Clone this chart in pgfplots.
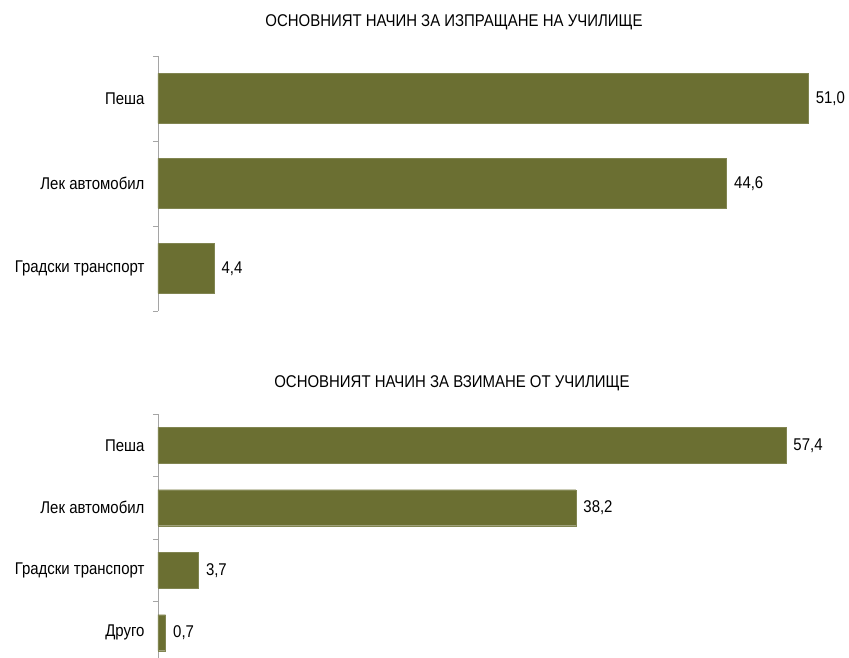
\documentclass[border=0pt]{standalone}
\usepackage{pgfplots}
\pgfplotsset{compat=1.18}
\usepackage{fontspec}
\setmainfont{Liberation Sans}[FakeStretch=0.88]
\definecolor{barolive}{RGB}{107,111,50}
\definecolor{axgray}{RGB}{165,165,165}
\newcommand{\chf}{\fontsize{17}{20}\selectfont}
\begin{document}
\begin{tikzpicture}[font=\chf]
\pgfplotsset{
  mybars/.style={
    xbar, scale only axis, xmin=0,
    y dir=reverse,
    axis y line*=left, axis x line=none,
    axis line style={axgray, line width=0.8pt},
    major tick length=0pt, minor tick length=5pt, tick align=outside,
    every minor tick/.style={axgray, line width=0.8pt},
    xtick=\empty,
    tick label style={font=\chf},
    yticklabel style={xshift=-10pt},
    /pgf/number format/assume math mode=true,
    nodes near coords={\pgfmathprintnumber[fixed,fixed zerofill,precision=1,use comma]{\pgfplotspointmeta}},
    every node near coord/.append style={font=\chf, anchor=west, xshift=4pt, text=black},
    clip=false,
  }
}
% top chart
\begin{axis}[mybars, at={(158pt,347pt)}, anchor=south west,
  width=663pt, height=255pt, xmax=52,
  ymin=-0.5, ymax=2.5, ytick={0,1,2},
  yticklabels={Пеша,Лек автомобил,Градски транспорт},
  minor ytick={-0.5,0.5,1.5,2.5},
  bar width=50pt]
\addplot[fill=barolive, draw=barolive!85!white] coordinates {(51.0,0) (44.6,1) (4.4,2)};
\end{axis}
\node at (454pt,636pt) {ОСНОВНИЯТ НАЧИН ЗА ИЗПРАЩАНЕ НА УЧИЛИЩЕ};
% bottom chart
\begin{axis}[mybars, at={(158pt,-6pt)}, anchor=south west,
  width=656.4pt, height=250pt, xmax=60,
  ymin=-0.5, ymax=3.5, ytick={0,1,2,3},
  yticklabels={Пеша,Лек автомобил,Градски транспорт,Друго},
  minor ytick={-0.5,0.5,1.5,2.5,3.5},
  bar width=36pt]
\addplot[fill=barolive, draw=barolive!85!white] coordinates {(57.4,0) (38.2,1) (3.7,2) (0.7,3)};
\end{axis}
\node at (452pt,275pt) {ОСНОВНИЯТ НАЧИН ЗА ВЗИМАНЕ ОТ УЧИЛИЩЕ};
\pgfresetboundingbox
\useasboundingbox (0pt,0pt) rectangle (849pt,658pt);
\end{tikzpicture}
\end{document}
